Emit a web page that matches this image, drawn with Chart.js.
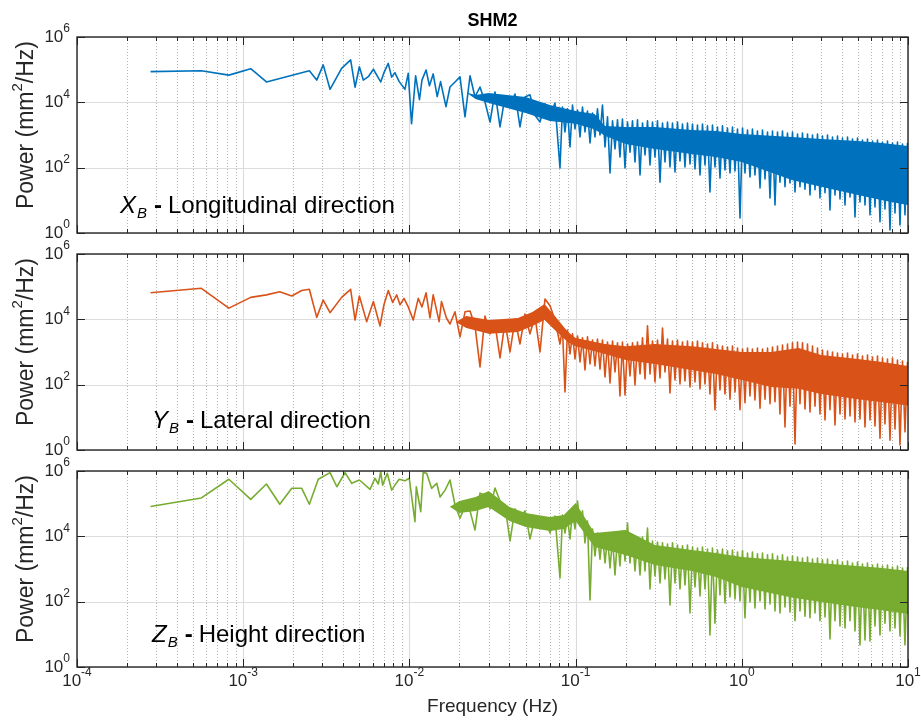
<!DOCTYPE html>
<html>
<head>
<meta charset="utf-8">
<title>SHM2</title>
<script src="https://cdn.jsdelivr.net/npm/chart.js@4.4.1/dist/chart.umd.min.js"></script>
<style>
  body { margin: 0; background: #fff; }
  #wrap { position: relative; width: 921px; height: 720px; }
  canvas { position: absolute; left: 0; }
</style>
</head>
<body>
<div id="wrap">
  <canvas id="long_chart" width="921" height="243" style="top:0"></canvas>
  <canvas id="lat_chart" width="921" height="227" style="top:233px"></canvas>
  <canvas id="hgt_chart" width="921" height="270" style="top:450px"></canvas>
</div>
<script type="text/javascript">
    // axis ticks
    var xDecades = [1e-4, 1e-3, 1e-2, 1e-1, 1, 10];
    var xTickExp = ["-4", "-3", "-2", "-1", "0", "1"];
    var yTicks = [1, 1e2, 1e4, 1e6];
    var yTickExp = ["0", "2", "4", "6"];

    // frequency bins of the dense part of the spectrum (Hz), shared by the 3 directions
    var denseFreq = [
        0.01755, 0.01881, 0.02016, 0.02161, 0.02316, 0.02481, 0.02659, 0.0285, 0.03055, 0.03274,
        0.03509, 0.0376, 0.0403, 0.04319, 0.04628, 0.0496, 0.05315, 0.05696, 0.06105, 0.06543,
        0.07015, 0.07515, 0.08054, 0.08338, 0.08631, 0.08935, 0.09253, 0.09579, 0.09917, 0.1027,
        0.1063, 0.11, 0.1139, 0.1179, 0.1221, 0.1264, 0.1308, 0.1354, 0.1402, 0.1451,
        0.1503, 0.1556, 0.1611, 0.1668, 0.1726, 0.1787, 0.1849, 0.1914, 0.1983, 0.2053,
        0.2125, 0.22, 0.2277, 0.2357, 0.2441, 0.2527, 0.2616, 0.2708, 0.2803, 0.2902,
        0.3004, 0.311, 0.322, 0.3333, 0.3451, 0.3573, 0.3698, 0.3828, 0.3963, 0.4103,
        0.4247, 0.4397, 0.4551, 0.4711, 0.4879, 0.5051, 0.5228, 0.5412, 0.5603, 0.58,
        0.6005, 0.6217, 0.6434, 0.6661, 0.6896, 0.7139, 0.7392, 0.7652, 0.7921, 0.82,
        0.849, 0.8789, 0.9101, 0.9422, 0.9752, 1.01, 1.045, 1.082, 1.12, 1.159,
        1.2, 1.242, 1.287, 1.332, 1.379, 1.428, 1.478, 1.53, 1.584, 1.64,
        1.697, 1.757, 1.819, 1.883, 1.95, 2.019, 2.09, 2.164, 2.239, 2.318,
        2.4, 2.485, 2.572, 2.663, 2.757, 2.854, 2.954, 3.058, 3.167, 3.279,
        3.393, 3.513, 3.637, 3.765, 3.898, 4.035, 4.178, 4.325, 4.477, 4.635,
        4.798, 4.967, 5.141, 5.322, 5.511, 5.705, 5.907, 6.115, 6.33, 6.553,
        6.785, 7.024, 7.269, 7.525, 7.791, 8.066, 8.35, 8.644, 8.949, 9.264,
        9.592, 9.93
    ];

    // X_B - longitudinal
    var longFreqLow = [2.77e-4, 5.6e-4, 8.2e-4, 1.11e-3, 1.38e-3, 2.5e-3, 2.77e-3, 3.03e-3, 3.33e-3, 3.91e-3,
        4.43e-3, 4.71e-3, 5.0e-3, 5.28e-3, 5.66e-3, 6.07e-3, 6.72e-3, 7.03e-3, 7.46e-3, 7.82e-3,
        8.18e-3, 8.68e-3, 9.4e-3, 9.84e-3, 1.03e-2, 1.09e-2, 1.15e-2, 1.19e-2, 1.26e-2, 1.32e-2,
        1.39e-2, 1.47e-2, 1.54e-2, 1.66e-2];
    var longPowerLow = [8.7e4, 9.3e4, 6.8e4, 1.07e5, 4.2e4, 9.3e4, 4.8e4, 1.4e5, 2.5e4, 1.1e5,
        2.0e5, 2.9e4, 1.23e5, 4.8e4, 6.1e4, 1.03e5, 4.2e4, 8.1e4, 1.56e5, 5.9e4,
        8.1e4, 4.3e4, 2.5e4, 7.7e4, 2.2e3, 6.5e4, 1.2e4, 4.8e4, 9.8e4, 3.2e4,
        7.4e4, 1.5e4, 4.3e4, 7.4e3];
    var longPowerDense = [
        2.95e4, 4.2e4, 6.0e4, 3.6e3, 6.5e4, 1.46e4, 2.95e4, 1.02e4, 2.5e3, 2.08e4,
        1.76e3, 1.46e4, 7.2e3, 1.8e4, 1.76e3, 1.46e4, 1.7e4, 4.0e3, 2.5e3, 9.0e3,
        3.6e3, 9.5e3, 98, 7.2e3, 1.24e3, 6.3e3, 430, 8.3e3, 1.53e3, 5.8e3,
        870, 7.2e3, 1.24e3, 5.4e3, 570, 4.7e3, 870, 6.3e3, 1.0e3, 8.3e3,
        430, 3.6e3, 69, 2.7e3, 373, 2.9e3, 212, 3.1e3, 98, 2.5e3,
        300, 2.7e3, 149, 2.9e3, 60, 2.33e3, 245, 2.7e3, 121, 2.5e3,
        212, 2.7e3, 36, 2.33e3, 149, 2.5e3, 105, 2.33e3, 74, 2.5e3,
        160, 2.17e3, 105, 2.33e3, 130, 2.17e3, 91, 2.0e3, 60, 2.17e3,
        121, 1.9e3, 18, 2.0e3, 105, 1.76e3, 48, 1.9e3, 85, 1.64e3,
        69, 1.76e3, 79, 1.53e3, 2.9, 1.64e3, 69, 1.42e3, 52, 1.53e3,
        60, 1.33e3, 24, 1.42e3, 45, 1.24e3, 11.8, 1.33e3, 7.2, 1.24e3,
        36, 1.33e3, 26, 1.15e3, 34, 1.24e3, 18, 1.07e3, 26, 1.15e3,
        22, 1.07e3, 14.6, 1.0e3, 21, 1.07e3, 11.8, 930, 17, 1.0e3,
        5.1, 870, 14.6, 930, 11, 810, 7.2, 870, 12.7, 755,
        3.1, 810, 8.9, 700, 7.2, 755, 3.6, 656, 6.3, 700,
        2.2, 610, 5.4, 656, 1.24, 570, 4.1, 610, 1.76, 530,
        3.6, 570
    ];
    var longBandFreq = [0.022, 0.025, 0.03, 0.05, 0.07, 0.1, 0.13, 0.15, 0.2, 0.3, 0.5, 0.7, 1, 2, 3, 5, 7, 10];
    var longBandTop = [2.0e4, 1.68e4, 1.93e4, 1.46e4, 8.3e3, 5.4e3, 4.4e3, 1.9e3, 1.76e3, 1.76e3, 1.42e3, 1.33e3, 1.07e3, 870, 755, 656, 570, 460];
    var longBandBottom = [2.0e4, 1.26e4, 9.5e3, 4.7e3, 2.7e3, 2.2e3, 1.5e3, 950, 530, 370, 260, 212, 149, 42, 26, 14.5, 10, 7.2];

    // Y_B - lateral
    var latFreqLow = [2.77e-4, 5.6e-4, 8.2e-4, 1.11e-3, 1.38e-3, 1.66e-3, 1.96e-3, 2.25e-3, 2.5e-3, 2.77e-3,
        3.03e-3, 3.33e-3, 3.91e-3, 4.43e-3, 4.71e-3, 5.0e-3, 5.53e-3, 6.07e-3, 6.65e-3, 7.03e-3,
        7.46e-3, 7.93e-3, 8.39e-3, 8.78e-3, 9.28e-3, 9.84e-3, 1.055e-2, 1.13e-2, 1.19e-2, 1.26e-2,
        1.33e-2, 1.39e-2, 1.51e-2, 1.56e-2, 1.67e-2];
    var latPowerLow = [6.5e4, 8.9e4, 2.2e4, 4.7e4, 5.6e4, 7.0e4, 5.2e4, 7.6e4, 8.3e4, 1.15e4,
        3.9e4, 1.6e4, 4.7e4, 8.3e4, 9.5e3, 5.2e4, 8.5e3, 3.5e4, 6.3e3, 2.8e4,
        7.6e4, 3.3e4, 5.6e4, 2.8e4, 4.4e4, 2.4e4, 9.5e3, 4.4e4, 2.4e4, 6.5e4,
        1.1e4, 5.6e4, 8.5e3, 3.5e4, 1.1e4];
    var latPowerDense = [
        7.2e3, 1.7e4, 2.9e3, 1.7e4, 1.8e4, 6.3e3, 350, 1.26e4, 3.6e3, 7.2e3,
        660, 8.3e3, 1.0e3, 1.02e4, 1.76e3, 1.46e4, 3.6e3, 1.26e4, 1.0e3, 4.2e4,
        2.6e4, 9.5e3, 1.76e3, 5.4e3, 60, 4.7e3, 870, 3.6e3, 610, 3.1e3,
        495, 2.7e3, 280, 2.9e3, 430, 2.33e3, 373, 2.5e3, 300, 2.33e3,
        172, 2.0e3, 112, 2.17e3, 245, 1.9e3, 45, 2.0e3, 48, 1.76e3,
        185, 1.9e3, 98, 2.0e3, 212, 2.7e3, 149, 6.3e3, 212, 2.17e3,
        121, 2.33e3, 160, 5.4e3, 245, 2.5e3, 56, 2.17e3, 139, 2.33e3,
        105, 2.0e3, 130, 2.17e3, 85, 2.0e3, 121, 2.17e3, 74, 1.9e3,
        105, 1.76e3, 52, 1.9e3, 17, 1.64e3, 69, 1.53e3, 52, 1.42e3,
        36, 1.53e3, 60, 1.33e3, 17, 1.24e3, 28, 1.33e3, 45, 1.24e3,
        34, 1.33e3, 19, 1.24e3, 36, 1.33e3, 26, 1.42e3, 30, 1.53e3,
        12.7, 1.64e3, 5.1, 1.76e3, 22, 1.9e3, 1.53, 2.0e3, 26, 1.9e3,
        18, 1.76e3, 14.6, 1.53e3, 22, 1.33e3, 12.7, 1.15e3, 8.3, 1.07e3,
        17, 1.0e3, 5.8, 930, 12.7, 870, 8.9, 930, 11, 810,
        7.2, 870, 8.9, 755, 5.1, 810, 8.3, 700, 5.4, 755,
        2.3, 656, 6.3, 610, 2.0, 656, 4.4, 570, 1.43, 530,
        3.6, 495
    ];
    var latBandFreq = [0.019, 0.022, 0.03, 0.045, 0.055, 0.065, 0.075, 0.09, 0.1, 0.15, 0.2, 0.3, 0.5, 0.7, 1, 1.5, 2.2, 3, 5, 7, 10];
    var latBandTop = [8.3e3, 1.26e4, 9.5e3, 1.1e4, 1.68e4, 2.95e4, 1.26e4, 4.1e3, 2.7e3, 1.76e3, 1.5e3, 1.76e3, 1.5e3, 1.24e3, 1.0e3, 1.0e3, 1.33e3, 810, 610, 495, 373];
    var latBandBottom = [8.3e3, 5.4e3, 3.6e3, 4.1e3, 6.3e3, 9.5e3, 4.7e3, 2.0e3, 1.5e3, 870, 570, 430, 280, 212, 139, 85, 75, 52, 36, 29, 23];

    // Z_B - height
    var hgtFreqLow = [2.77e-4, 5.6e-4, 8.2e-4, 1.11e-3, 1.38e-3, 1.66e-3, 1.96e-3, 2.25e-3, 2.5e-3, 2.83e-3,
        3.33e-3, 3.66e-3, 4.1e-3, 4.5e-3, 5.0e-3, 5.8e-3, 6.2e-3, 6.5e-3, 6.72e-3, 6.9e-3,
        7.36e-3, 7.82e-3, 8.18e-3, 8.68e-3, 9.4e-3, 9.98e-3, 1.08e-2, 1.1e-2, 1.17e-2, 1.21e-2,
        1.27e-2, 1.36e-2, 1.46e-2, 1.53e-2, 1.64e-2];
    var hgtPowerLow = [8.2e4, 1.5e5, 5.6e5, 1.36e5, 4.0e5, 9.6e4, 2.95e5, 2.95e5, 9.6e4, 5.6e5,
        8.9e5, 3.3e5, 8.9e5, 4.2e5, 5.3e5, 2.75e5, 6.0e5, 4.0e5, 9.5e5, 3.7e5,
        8.5e5, 2.6e5, 3.7e5, 5.6e5, 5.0e5, 6.0e5, 2.8e4, 3.3e5, 5.7e4, 8.9e5,
        8.5e5, 2.95e5, 4.2e5, 1.6e5, 2.6e5];
    var hgtPowerDense = [
        5.3e5, 9.1e4, 3.6e4, 8.5e4, 6.0e4, 1.56e4, 2.1e5, 1.85e5, 6.9e4, 3.0e5,
        1.21e5, 8.5e4, 7.2e3, 6.9e4, 3.4e4, 6.0e4, 8.3e3, 3.9e4, 1.7e4, 3.4e4,
        1.26e4, 4.2e4, 530, 4.5e4, 1.26e4, 3.9e4, 8.3e3, 6.0e4, 1.68e4, 1.21e5,
        2.08e4, 6.0e4, 6.3e3, 2.95e4, 112, 1.68e4, 2.5e3, 1.26e4, 2.0e3, 1.1e4,
        1.53e3, 9.5e3, 1.07e3, 8.3e3, 656, 9.5e3, 1.24e3, 1.46e4, 1.76e3, 2.56e4,
        1.53e3, 1.1e4, 870, 8.3e3, 656, 9.5e3, 870, 1.8e4, 245, 7.2e3,
        610, 6.7e3, 373, 6.3e3, 495, 5.8e3, 79, 6.3e3, 373, 5.4e3,
        245, 5.1e3, 325, 5.4e3, 45, 4.7e3, 280, 4.4e3, 149, 4.7e3,
        245, 4.1e3, 9.5, 4.4e3, 22, 3.8e3, 160, 4.1e3, 91, 3.6e3,
        139, 3.8e3, 121, 3.3e3, 105, 3.6e3, 32, 3.1e3, 98, 3.3e3,
        64, 2.9e3, 105, 3.1e3, 60, 2.7e3, 85, 2.9e3, 52, 2.5e3,
        45, 2.7e3, 69, 2.33e3, 48, 2.5e3, 26, 2.33e3, 52, 2.17e3,
        36, 2.33e3, 32, 2.0e3, 45, 2.17e3, 26, 1.9e3, 34, 2.0e3,
        7.2, 1.76e3, 26, 1.9e3, 18, 1.64e3, 15.7, 1.76e3, 26, 1.53e3,
        12.7, 1.64e3, 4.7, 1.42e3, 6.7, 1.53e3, 6.3, 1.33e3, 18, 1.42e3,
        9.5, 1.24e3, 22, 1.33e3, 12.7, 1.15e3, 15.7, 1.24e3, 8.9, 1.07e3,
        4.7, 1.15e3
    ];
    var hgtBandFreq = [0.0175, 0.02, 0.025, 0.03, 0.04, 0.05, 0.07, 0.085, 0.1, 0.13, 0.2, 0.3, 0.5, 0.7, 1, 2, 3, 5, 7, 10];
    var hgtBandTop = [8.0e4, 1.21e5, 1.6e5, 2.44e5, 7.9e4, 5.2e4, 3.9e4, 4.5e4, 1.05e5, 1.26e4, 1.56e4, 5.4e3, 3.8e3, 3.1e3, 2.33e3, 1.76e3, 1.5e3, 1.24e3, 1.07e3, 870];
    var hgtBandBottom = [8.0e4, 5.2e4, 6.0e4, 7.9e4, 2.95e4, 1.93e4, 1.46e4, 1.68e4, 2.95e4, 4.7e3, 2.7e3, 1.33e3, 870, 570, 280, 135, 97, 68, 55, 42];

    var FONT = '"Liberation Sans", Arial, Helvetica, sans-serif';
    var AXIS_COLOR = "#262626";

    // 10 with a raised exponent, like matlab tick labels
    function drawPower(ctx, exp, x, y, align) {
        ctx.font = "17px " + FONT;
        var w1 = ctx.measureText("10").width;
        ctx.font = "12px " + FONT;
        var w2 = ctx.measureText(exp).width;
        var left = align === "right" ? x - w1 - w2 : x - (w1 + w2) / 2;
        ctx.textAlign = "left";
        ctx.textBaseline = "middle";
        ctx.font = "17px " + FONT;
        ctx.fillText("10", left, y);
        ctx.font = "12px " + FONT;
        ctx.fillText(exp, left + w1, y - 8);
    }

    var panelPlugin = {
        id: "panel",
        beforeDatasetsDraw: function (chart) {
            var ctx = chart.ctx, a = chart.chartArea;
            var xs = chart.scales.x, ys = chart.scales.y;
            ctx.save();
            ctx.lineWidth = 1;
            // minor vertical grid, dotted
            ctx.strokeStyle = "#b4b4b4";
            ctx.setLineDash([1, 2]);
            for (var i = 0; i < xDecades.length - 1; i++) {
                for (var m = 2; m < 10; m++) {
                    var px = Math.round(xs.getPixelForValue(xDecades[i] * m)) + 0.5;
                    ctx.beginPath(); ctx.moveTo(px, a.top); ctx.lineTo(px, a.bottom); ctx.stroke();
                }
            }
            ctx.setLineDash([]);
            ctx.strokeStyle = "#dcdcdc";
            ctx.lineWidth = 1.2;
            xDecades.forEach(function (d) {
                var px = Math.round(xs.getPixelForValue(d)) + 0.5;
                ctx.beginPath(); ctx.moveTo(px, a.top); ctx.lineTo(px, a.bottom); ctx.stroke();
            });
            yTicks.forEach(function (v) {
                var py = Math.round(ys.getPixelForValue(v)) + 0.5;
                ctx.beginPath(); ctx.moveTo(a.left, py); ctx.lineTo(a.right, py); ctx.stroke();
            });
            ctx.restore();
        },
        afterDatasetsDraw: function (chart, args, opts) {
            var ctx = chart.ctx, a = chart.chartArea;
            var xs = chart.scales.x, ys = chart.scales.y;
            ctx.save();
            // inward ticks
            ctx.strokeStyle = AXIS_COLOR;
            ctx.lineWidth = 1;
            ctx.beginPath();
            for (var i = 0; i < xDecades.length; i++) {
                var px = Math.round(xs.getPixelForValue(xDecades[i])) + 0.5;
                ctx.moveTo(px, a.top); ctx.lineTo(px, a.top + 8);
                ctx.moveTo(px, a.bottom); ctx.lineTo(px, a.bottom - 8);
                if (i === xDecades.length - 1) break;
                for (var m = 2; m < 10; m++) {
                    var qx = Math.round(xs.getPixelForValue(xDecades[i] * m)) + 0.5;
                    ctx.moveTo(qx, a.top); ctx.lineTo(qx, a.top + 4);
                    ctx.moveTo(qx, a.bottom); ctx.lineTo(qx, a.bottom - 4);
                }
            }
            yTicks.forEach(function (v) {
                var py = Math.round(ys.getPixelForValue(v)) + 0.5;
                ctx.moveTo(a.left, py); ctx.lineTo(a.left + 8, py);
                ctx.moveTo(a.right, py); ctx.lineTo(a.right - 8, py);
            });
            ctx.stroke();
            // box
            ctx.lineWidth = 1.4;
            ctx.strokeRect(a.left, a.top, a.right - a.left, a.bottom - a.top);

            // tick labels
            ctx.fillStyle = AXIS_COLOR;
            yTicks.forEach(function (v, j) {
                drawPower(ctx, yTickExp[j], a.left - 7, ys.getPixelForValue(v), "right");
            });
            if (opts.xLabels) {
                xDecades.forEach(function (d, j) {
                    drawPower(ctx, xTickExp[j], xs.getPixelForValue(d), a.bottom + 14, "center");
                });
                ctx.font = "19px " + FONT;
                ctx.textAlign = "center";
                ctx.textBaseline = "middle";
                ctx.fillText("Frequency (Hz)", (a.left + a.right) / 2, a.bottom + 40);
            }

            // y label, rotated
            ctx.save();
            ctx.translate(27, (a.top + a.bottom) / 2 - 10);
            ctx.rotate(-Math.PI / 2);
            ctx.textBaseline = "middle";
            ctx.textAlign = "left";
            ctx.font = "23px " + FONT;
            var p1 = "Power (mm", p2 = "/Hz)";
            var w1 = ctx.measureText(p1).width, w3 = ctx.measureText(p2).width;
            ctx.font = "15px " + FONT;
            var w2 = ctx.measureText("2").width;
            var sx = -(w1 + w2 + w3) / 2;
            ctx.font = "23px " + FONT;
            ctx.fillText(p1, sx, 0);
            ctx.fillText(p2, sx + w1 + w2, 0);
            ctx.font = "15px " + FONT;
            ctx.fillText("2", sx + w1, -9);
            ctx.restore();

            // direction label
            var x0 = opts.labelX, y0 = a.top + opts.labelY;
            ctx.fillStyle = "#000";
            ctx.textBaseline = "alphabetic";
            ctx.textAlign = "left";
            ctx.font = "italic 24px " + FONT;
            ctx.fillText(opts.letter, x0, y0);
            var x = x0 + ctx.measureText(opts.letter).width + 1;
            ctx.font = "italic 15px " + FONT;
            ctx.fillText("B", x, y0 + 5);
            x += ctx.measureText("B").width + 7;
            ctx.font = "bold 24px " + FONT;
            ctx.fillText("-", x, y0);
            x += ctx.measureText("-").width + 6;
            ctx.font = "24px " + FONT;
            ctx.fillText(opts.text, x, y0);

            if (opts.title) {
                ctx.font = "bold 18px " + FONT;
                ctx.textAlign = "center";
                ctx.textBaseline = "middle";
                ctx.fillStyle = "#000";
                ctx.fillText(opts.title, (a.left + a.right) / 2, 21);
            }
            ctx.restore();
        }
    };

    function toPoints(freq, power) {
        return freq.map(function (f, i) { return {x: f, y: power[i]}; });
    }

    function createPanel(id, color, trace, bandFreq, bandTop, bandBottom, panel) {
        var ctx = document.getElementById(id).getContext("2d");
        return new Chart(ctx, {
            type: "line",
            data: {
                datasets: [{
                    label: "spectrum",
                    data: trace,
                    borderColor: color,
                    borderWidth: 1.6,
                    borderJoinStyle: "round",
                    pointRadius: 0,
                    tension: 0,
                    fill: false
                }, {
                    label: "band top",
                    data: toPoints(bandFreq, bandTop),
                    borderColor: "transparent",
                    borderWidth: 0,
                    pointRadius: 0,
                    fill: false
                }, {
                    label: "band bottom",
                    data: toPoints(bandFreq, bandBottom),
                    borderColor: "transparent",
                    borderWidth: 0,
                    pointRadius: 0,
                    backgroundColor: color,
                    fill: "-1"
                }]
            },
            options: {
                responsive: false,
                animation: false,
                devicePixelRatio: 1,
                layout: {padding: panel.padding},
                scales: {
                    x: {
                        type: "logarithmic", min: 1e-4, max: 10,
                        grid: {display: false}, border: {display: false}, ticks: {display: false},
                        afterFit: function (s) { s.height = panel.xHeight; }
                    },
                    y: {
                        type: "logarithmic", min: 1, max: 1e6,
                        grid: {display: false}, border: {display: false}, ticks: {display: false},
                        afterFit: function (s) { s.width = 77; }
                    }
                },
                plugins: {
                    legend: {display: false},
                    tooltip: {enabled: false},
                    panel: panel
                }
            },
            plugins: [panelPlugin]
        });
    }

    createPanel("long_chart", "#0072BD",
        toPoints(longFreqLow, longPowerLow).concat(toPoints(denseFreq, longPowerDense)),
        longBandFreq, longBandTop, longBandBottom,
        {padding: {top: 37, bottom: 10, left: 0, right: 13}, xHeight: 0,
         letter: "X", text: "Longitudinal direction", labelX: 120, labelY: 176, title: "SHM2", xLabels: false});

    createPanel("lat_chart", "#D95319",
        toPoints(latFreqLow, latPowerLow).concat(toPoints(denseFreq, latPowerDense)),
        latBandFreq, latBandTop, latBandBottom,
        {padding: {top: 21, bottom: 10, left: 0, right: 13}, xHeight: 0,
         letter: "Y", text: "Lateral direction", labelX: 152, labelY: 174, title: null, xLabels: false});

    createPanel("hgt_chart", "#77AC30",
        toPoints(hgtFreqLow, hgtPowerLow).concat(toPoints(denseFreq, hgtPowerDense)),
        hgtBandFreq, hgtBandTop, hgtBandBottom,
        {padding: {top: 21, bottom: 0, left: 0, right: 13}, xHeight: 53,
         letter: "Z", text: "Height direction", labelX: 152, labelY: 171, title: null, xLabels: true});
</script>
</body>
</html>
